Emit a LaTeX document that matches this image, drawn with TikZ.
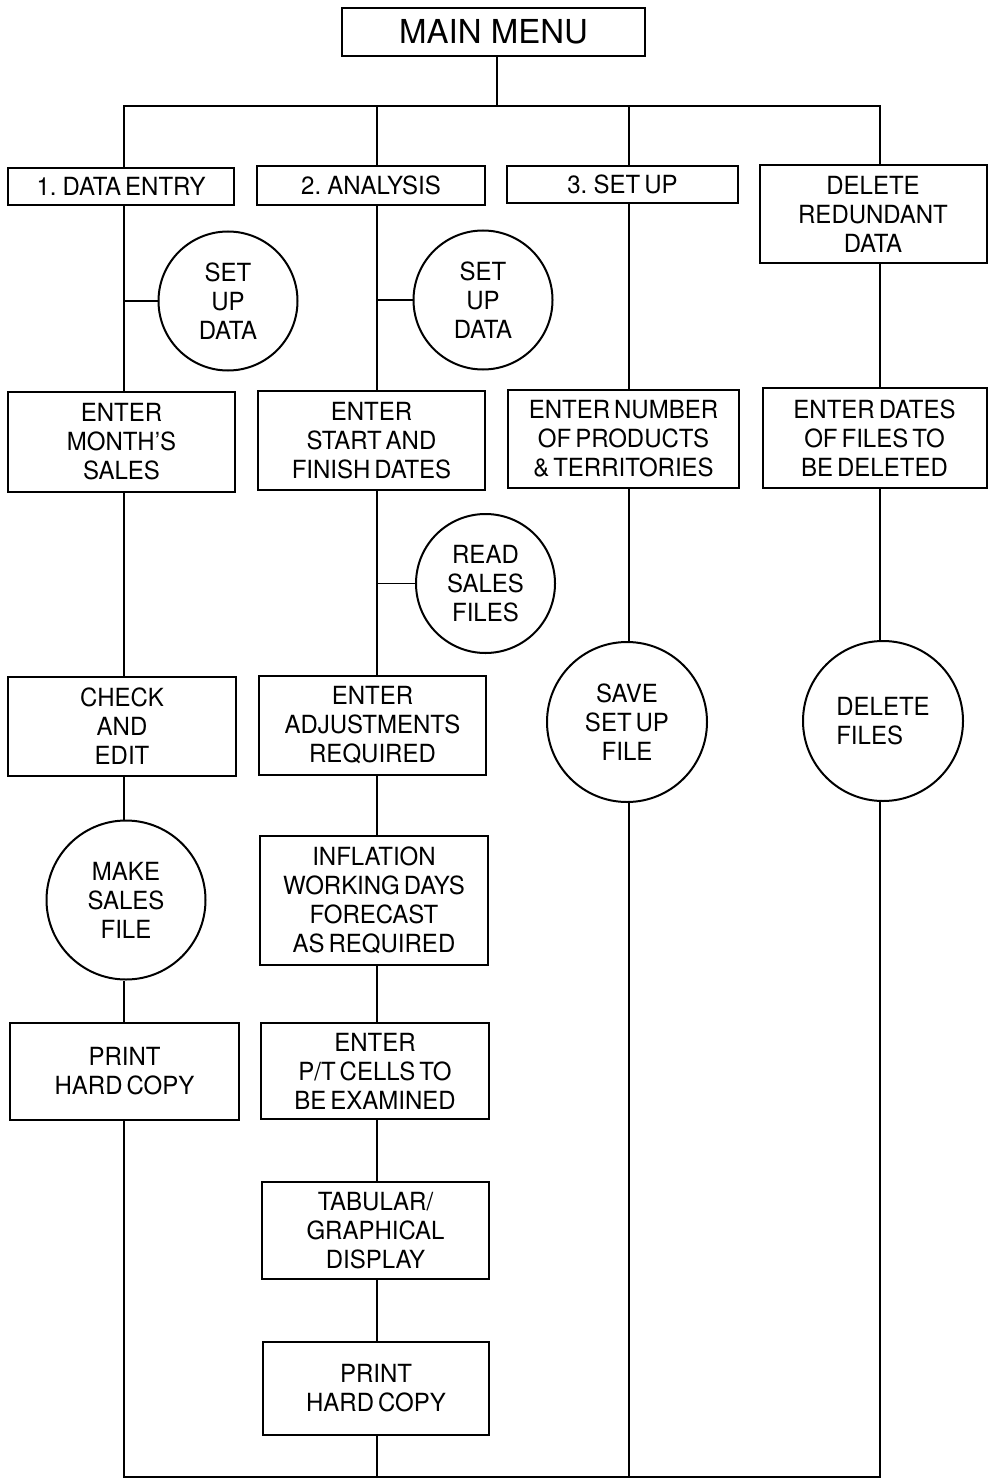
\documentclass[tikz,border=0pt]{standalone}
\usepackage{fontspec}
\setmainfont{TeX Gyre Heros}[FakeStretch=0.96,WordSpace=0.6]
\newfontfamily\mmfont{TeX Gyre Heros}
\newcommand\lab{\fontsize{25}{29}\selectfont}
\begin{document}
\begin{tikzpicture}[x=1pt,y=-1pt,
  box/.style={draw, line width=2pt, inner sep=0pt, align=center, font=\lab},
  circ/.style={draw, circle, line width=2pt, inner sep=0pt, align=center, font=\lab},
  conn/.style={line width=1.8pt}]
\useasboundingbox (0,0) rectangle (988,1479);
\fill[white] (0,0) rectangle (988,1479);
% columns
\coordinate (c1) at (124,0);
\coordinate (c2) at (377,0);
\coordinate (c3) at (629,0);
\coordinate (c4) at (880,0);
\coordinate (j) at (497,106);
\coordinate (bot) at (0,1477);
% nodes
\node[box, minimum width=303pt, minimum height=48pt, font=\mmfont\fontsize{33}{36}\selectfont] (main) at (493.5,32) {MAIN MENU};
\node[box, minimum width=226pt, minimum height=37pt] (de) at (121,186.5) {1. DATA ENTRY};
\node[box, minimum width=228pt, minimum height=39pt] (an) at (371,185.5) {2. ANALYSIS};
\node[box, minimum width=231pt, minimum height=37pt] (su) at (622.5,184.5) {3. SET UP};
\node[box, minimum width=227pt, minimum height=98pt] (dr) at (873,214) {DELETE\\REDUNDANT\\DATA};
\node[circ, minimum size=139pt] (sd1) at (228,301) {SET\\UP\\DATA};
\node[circ, minimum size=139pt] (sd2) at (483,300) {SET\\UP\\DATA};
\node[box, minimum width=227pt, minimum height=100pt] (em) at (121.5,442) {ENTER\\MONTH’S\\SALES};
\node[box, minimum width=227pt, minimum height=99pt] (es) at (371.5,440.5) {ENTER\\START AND\\FINISH DATES};
\node[box, minimum width=231pt, minimum height=98pt] (en) at (623.5,439) {ENTER NUMBER\\OF PRODUCTS\\\& TERRITORIES};
\node[box, minimum width=224pt, minimum height=100pt] (ed) at (874.5,438) {ENTER DATES\\OF FILES TO\\BE DELETED};
\node[circ, minimum size=139pt] (rs) at (485.5,583.5) {READ\\SALES\\FILES};
\node[box, minimum width=228pt, minimum height=99pt] (ce) at (122,726.5) {CHECK\\AND\\EDIT};
\node[box, minimum width=227pt, minimum height=99pt] (ea) at (372.5,725.5) {ENTER\\ADJUSTMENTS\\REQUIRED};
\node[circ, minimum size=160pt] (ss) at (627,722) {SAVE\\SET UP\\FILE};
\node[circ, minimum size=160pt, align=left] (df) at (883,721) {DELETE\\FILES};
\node[circ, minimum size=159pt] (ms) at (126,900) {MAKE\\SALES\\FILE};
\node[box, minimum width=228pt, minimum height=129pt] (inf) at (374,900.5) {INFLATION\\WORKING DAYS\\FORECAST\\AS REQUIRED};
\node[box, minimum width=229pt, minimum height=97pt] (ph1) at (124.5,1071.5) {PRINT\\HARD COPY};
\node[box, minimum width=228pt, minimum height=96pt] (pt) at (375,1071) {ENTER\\P/T CELLS TO\\BE EXAMINED};
\node[box, minimum width=227pt, minimum height=97pt] (tg) at (375.5,1230.5) {TABULAR/\\GRAPHICAL\\DISPLAY};
\node[box, minimum width=226pt, minimum height=93pt] (ph2) at (376,1388.5) {PRINT\\HARD COPY};
% top tree
\draw[conn] (j |- main.south) -- (j);
\draw[conn] (c1 |- de.north) -- (c1 |- j) -- (c4 |- j) -- (c4 |- dr.north);
\draw[conn] (c2 |- j) -- (c2 |- an.north);
\draw[conn] (c3 |- j) -- (c3 |- su.north);
% column 1
\draw[conn] (c1 |- de.south) -- (c1 |- em.north);
\draw[conn] (sd1.west) -- (c1 |- sd1.west);
\draw[conn] (c1 |- em.south) -- (c1 |- ce.north);
\draw[conn] (c1 |- ce.south) -- (c1 |- ms.north);
\draw[conn] (c1 |- ms.south) -- (c1 |- ph1.north);
% column 2
\draw[conn] (c2 |- an.south) -- (c2 |- es.north);
\draw[conn] (sd2.west) -- (c2 |- sd2.west);
\draw[conn] (c2 |- es.south) -- (c2 |- ea.north);
\draw[conn] (rs.west) -- (c2 |- rs.west);
\draw[conn] (c2 |- ea.south) -- (c2 |- inf.north);
\draw[conn] (c2 |- inf.south) -- (c2 |- pt.north);
\draw[conn] (c2 |- pt.south) -- (c2 |- tg.north);
\draw[conn] (c2 |- tg.south) -- (c2 |- ph2.north);
% column 3
\draw[conn] (c3 |- su.south) -- (c3 |- en.north);
\draw[conn] (c3 |- en.south) -- (c3 |- ss.north);
% column 4
\draw[conn] (c4 |- dr.south) -- (c4 |- ed.north);
\draw[conn] (c4 |- ed.south) -- (c4 |- df.north);
% bottom return
\draw[conn] (c1 |- ph1.south) -- (c1 |- bot) -- (c4 |- bot) -- (c4 |- df.south);
\draw[conn] (c2 |- ph2.south) -- (c2 |- bot);
\draw[conn] (c3 |- ss.south) -- (c3 |- bot);
\end{tikzpicture}
\end{document}
